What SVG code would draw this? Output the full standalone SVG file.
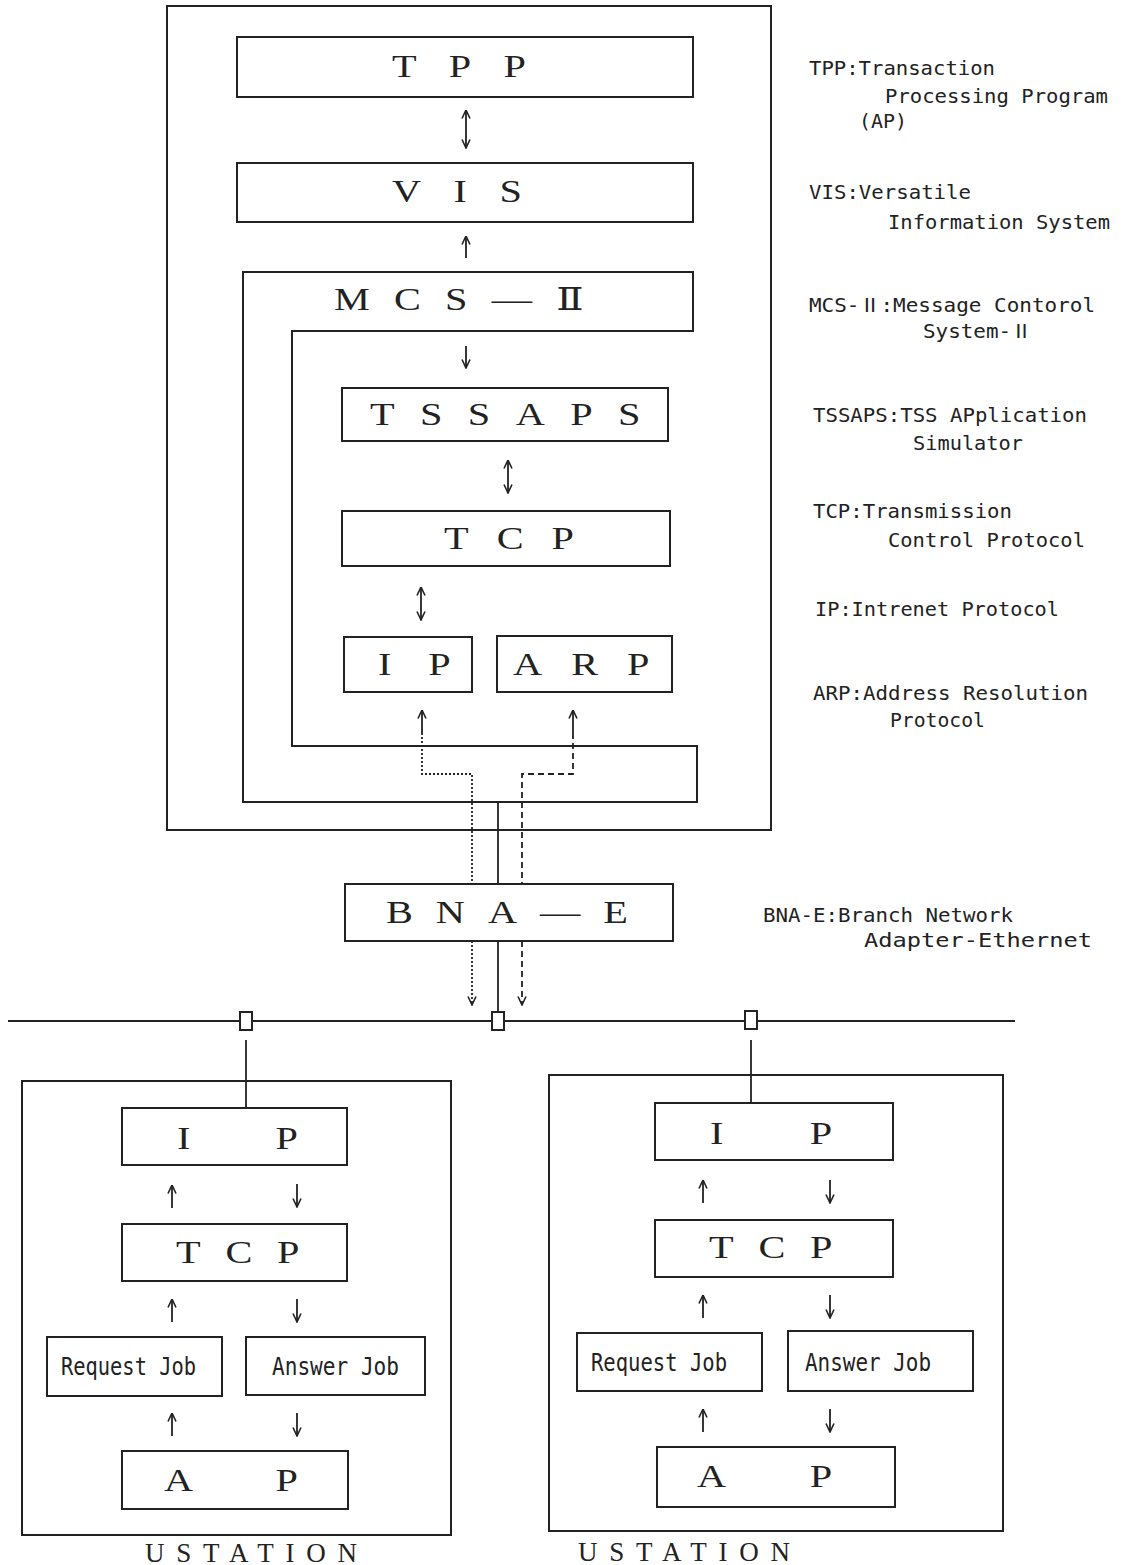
<svg xmlns="http://www.w3.org/2000/svg" width="1127" height="1565" viewBox="0 0 1127 1565">
<defs>
<marker id="ah" viewBox="0 0 10 10" refX="9.5" refY="5" markerWidth="10" markerHeight="10" markerUnits="userSpaceOnUse" orient="auto-start-reverse">
<path d="M1,1 L9.5,5 L1,9" fill="none" stroke="#222" stroke-width="1.6"/>
</marker>
<style>
.box{fill:none;stroke:#222;stroke-width:2}
.wbox{fill:#fff;stroke:#222;stroke-width:2}
.ln{fill:none;stroke:#222;stroke-width:1.8}
.arr{fill:none;stroke:#222;stroke-width:1.8;marker-end:url(#ah)}
.darr{fill:none;stroke:#222;stroke-width:1.8;marker-start:url(#ah);marker-end:url(#ah)}
.dot{stroke-dasharray:2,2}
.dash{stroke-dasharray:6,4}
.lbl{font-family:"Liberation Serif","DejaVu Serif","Noto Sans CJK JP",serif;font-size:31px;fill:#222}
.job{font-family:"DejaVu Sans Mono","Liberation Mono",monospace;font-size:24px;fill:#222}
.note{font-family:"DejaVu Sans Mono","Liberation Mono","Noto Sans CJK JP",monospace;font-size:19px;fill:#222}
.st{font-family:"Liberation Serif","DejaVu Serif",serif;font-size:27px;fill:#222}
</style>
</defs>
<rect width="1127" height="1565" fill="#fff"/>

<g id="host">
<rect class="box" x="167" y="6" width="604" height="824"/>
</g>
<g id="tpp">
<rect class="box" x="237" y="37" width="456" height="60"/>
<text class="lbl" transform="translate(392,77) scale(1.3,1)" x="0" y="0" textLength="103" lengthAdjust="spacing">TPP</text>
</g>
<g id="vis">
<rect class="box" x="237" y="163" width="456" height="59"/>
<text class="lbl" transform="translate(392,202) scale(1.3,1)" x="0" y="0" textLength="100" lengthAdjust="spacing">VIS</text>
</g>
<g id="mcs">
<path class="box" d="M243,272 H693 V331 H292 V746 H697 V802 H243 Z"/>
<text class="lbl" transform="translate(334,310) scale(1.3,1)" x="0" y="0" textLength="192" lengthAdjust="spacing">MCS—Ⅱ</text>
</g>
<g id="tssaps">
<rect class="box" x="342" y="388" width="326" height="53"/>
<text class="lbl" transform="translate(370,425) scale(1.3,1)" x="0" y="0" textLength="208" lengthAdjust="spacing">TSSAPS</text>
</g>
<g id="tcp-host">
<rect class="box" x="342" y="511" width="328" height="55"/>
<text class="lbl" transform="translate(444,549) scale(1.3,1)" x="0" y="0" textLength="100" lengthAdjust="spacing">TCP</text>
</g>
<g id="ip-host">
<rect class="box" x="344" y="637" width="128" height="55"/>
<text class="lbl" transform="translate(378,675) scale(1.3,1)" x="0" y="0" textLength="56" lengthAdjust="spacing">IP</text>
</g>
<g id="arp">
<rect class="box" x="497" y="636" width="175" height="56"/>
<text class="lbl" transform="translate(513,675) scale(1.3,1)" x="0" y="0" textLength="105" lengthAdjust="spacing">ARP</text>
</g>
<g id="bnae">
<rect class="box" x="345" y="884" width="328" height="57"/>
<text class="lbl" transform="translate(386,923) scale(1.3,1)" x="0" y="0" textLength="186" lengthAdjust="spacing">BNA—E</text>
</g>

<g id="station1">
<rect class="box" x="22" y="1081" width="429" height="454"/>
<rect class="box" x="122" y="1108" width="225" height="57"/>
<text class="lbl" transform="translate(177,1149) scale(1.3,1)" x="0" y="0" textLength="93" lengthAdjust="spacing">IP</text>
<rect class="box" x="122" y="1224" width="225" height="57"/>
<text class="lbl" transform="translate(176,1263) scale(1.3,1)" x="0" y="0" textLength="95" lengthAdjust="spacing">TCP</text>
<rect class="box" x="47" y="1337" width="175" height="59"/>
<text class="job" x="61" y="1375" textLength="135" lengthAdjust="spacingAndGlyphs">Request Job</text>
<rect class="box" x="246" y="1337" width="179" height="58"/>
<text class="job" x="272" y="1375" textLength="127" lengthAdjust="spacingAndGlyphs">Answer Job</text>
<rect class="box" x="122" y="1451" width="226" height="58"/>
<text class="lbl" transform="translate(164,1491) scale(1.3,1)" x="0" y="0" textLength="103" lengthAdjust="spacing">AP</text>
<text class="st" x="145" y="1562" textLength="212" lengthAdjust="spacing">USTATION</text>
</g>

<g id="station2">
<rect class="box" x="549" y="1075" width="454" height="456"/>
<rect class="box" x="655" y="1103" width="238" height="57"/>
<text class="lbl" transform="translate(710,1144) scale(1.3,1)" x="0" y="0" textLength="94" lengthAdjust="spacing">IP</text>
<rect class="box" x="655" y="1220" width="238" height="57"/>
<text class="lbl" transform="translate(709,1258) scale(1.3,1)" x="0" y="0" textLength="95" lengthAdjust="spacing">TCP</text>
<rect class="box" x="577" y="1333" width="185" height="58"/>
<text class="job" x="591" y="1371" textLength="136" lengthAdjust="spacingAndGlyphs">Request Job</text>
<rect class="box" x="788" y="1331" width="185" height="60"/>
<text class="job" x="805" y="1371" textLength="126" lengthAdjust="spacingAndGlyphs">Answer Job</text>
<rect class="box" x="657" y="1447" width="238" height="60"/>
<text class="lbl" transform="translate(697,1487) scale(1.3,1)" x="0" y="0" textLength="104" lengthAdjust="spacing">AP</text>
<text class="st" x="578" y="1561" textLength="212" lengthAdjust="spacing">USTATION</text>
</g>

<g id="connectors">
<line class="darr" x1="466" y1="110" x2="466" y2="148"/>
<line class="arr" x1="466" y1="258" x2="466" y2="236"/>
<line class="arr" x1="466" y1="346" x2="466" y2="368"/>
<line class="darr" x1="508" y1="460" x2="508" y2="493"/>
<line class="darr" x1="421" y1="587" x2="421" y2="620"/>
<path class="ln dot" d="M422,733 V774 H472 V884"/>
<line class="arr" x1="422" y1="733" x2="422" y2="710"/>
<path class="ln dash" d="M573,733 V774 H522 V884"/>
<line class="arr" x1="573" y1="733" x2="573" y2="710"/>
<line class="ln" x1="498" y1="803" x2="498" y2="884"/>
<line class="arr dot" x1="472" y1="941" x2="472" y2="1005"/>
<line class="arr dash" x1="522" y1="941" x2="522" y2="1005"/>
<line class="ln" x1="498" y1="941" x2="498" y2="1012"/>
<line class="ln" x1="8" y1="1021" x2="1015" y2="1021" stroke-width="2.4"/>
<rect class="wbox" x="240" y="1012" width="12" height="18"/>
<rect class="wbox" x="492" y="1012" width="12" height="18"/>
<rect class="wbox" x="745" y="1011" width="12" height="18"/>
<line class="ln" x1="246" y1="1040" x2="246" y2="1108"/>
<line class="ln" x1="751" y1="1040" x2="751" y2="1103"/>
<line class="arr" x1="172" y1="1208" x2="172" y2="1185"/>
<line class="arr" x1="297" y1="1184" x2="297" y2="1207"/>
<line class="arr" x1="172" y1="1322" x2="172" y2="1299"/>
<line class="arr" x1="297" y1="1299" x2="297" y2="1322"/>
<line class="arr" x1="172" y1="1436" x2="172" y2="1413"/>
<line class="arr" x1="297" y1="1413" x2="297" y2="1436"/>
<line class="arr" x1="703" y1="1203" x2="703" y2="1180"/>
<line class="arr" x1="830" y1="1180" x2="830" y2="1203"/>
<line class="arr" x1="703" y1="1318" x2="703" y2="1295"/>
<line class="arr" x1="830" y1="1295" x2="830" y2="1318"/>
<line class="arr" x1="703" y1="1432" x2="703" y2="1409"/>
<line class="arr" x1="830" y1="1409" x2="830" y2="1432"/>
</g>

<g id="legend">
<text class="note" x="809" y="75" textLength="186" lengthAdjust="spacingAndGlyphs">TPP:Transaction</text>
<text class="note" x="885" y="103" textLength="223" lengthAdjust="spacingAndGlyphs">Processing Program</text>
<text class="note" x="859" y="128" textLength="48" lengthAdjust="spacingAndGlyphs">(AP)</text>
<text class="note" x="809" y="199" textLength="162" lengthAdjust="spacingAndGlyphs">VIS:Versatile</text>
<text class="note" x="888" y="229" textLength="222" lengthAdjust="spacingAndGlyphs">Information System</text>
<text class="note" x="809" y="312" textLength="286" lengthAdjust="spacingAndGlyphs">MCS-Ⅱ:Message Contorol</text>
<text class="note" x="923" y="338" textLength="109" lengthAdjust="spacingAndGlyphs">System-Ⅱ</text>
<text class="note" x="813" y="422" textLength="274" lengthAdjust="spacingAndGlyphs">TSSAPS:TSS APplication</text>
<text class="note" x="913" y="450" textLength="110" lengthAdjust="spacingAndGlyphs">Simulator</text>
<text class="note" x="813" y="518" textLength="199" lengthAdjust="spacingAndGlyphs">TCP:Transmission</text>
<text class="note" x="888" y="547" textLength="197" lengthAdjust="spacingAndGlyphs">Control Protocol</text>
<text class="note" x="815" y="616" textLength="244" lengthAdjust="spacingAndGlyphs">IP:Intrenet Protocol</text>
<text class="note" x="813" y="700" textLength="275" lengthAdjust="spacingAndGlyphs">ARP:Address Resolution</text>
<text class="note" x="890" y="727" textLength="95" lengthAdjust="spacingAndGlyphs">Protocol</text>
<text class="note" x="763" y="922" textLength="250" lengthAdjust="spacingAndGlyphs">BNA-E:Branch Network</text>
<text class="note" x="864" y="947" textLength="228" lengthAdjust="spacingAndGlyphs">Adapter-Ethernet</text>
</g>
</svg>
